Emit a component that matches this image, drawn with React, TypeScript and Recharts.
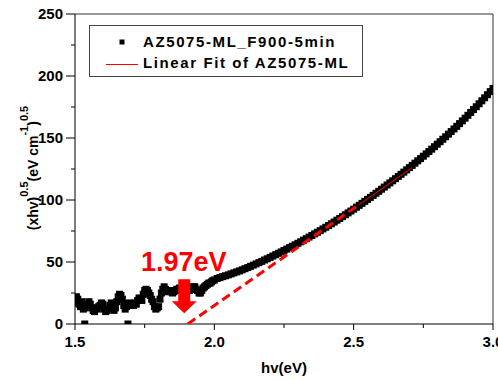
import React from 'react';
import {
  ComposedChart,
  Scatter,
  Line,
  XAxis,
  YAxis,
  ReferenceLine,
  ReferenceDot,
  Legend,
} from 'recharts';

// Noisy low-energy part (below the gap), read every 0.005 eV
const noiseHv = [
  1.500, 1.505, 1.510, 1.515, 1.520, 1.525, 1.530, 1.535, 1.540, 1.545,
  1.550, 1.555, 1.560, 1.565, 1.570, 1.575, 1.580, 1.585, 1.590, 1.595,
  1.600, 1.605, 1.610, 1.615, 1.620, 1.625, 1.630, 1.635, 1.640, 1.645,
  1.650, 1.655, 1.660, 1.665, 1.670, 1.675, 1.680, 1.685, 1.690, 1.695,
  1.700, 1.705, 1.710, 1.715, 1.720, 1.725, 1.730, 1.735, 1.740, 1.745,
  1.750, 1.755, 1.760, 1.765, 1.770, 1.775, 1.780, 1.785, 1.790, 1.795,
  1.800, 1.805, 1.810, 1.815, 1.820, 1.825, 1.830, 1.835, 1.840, 1.845,
  1.850, 1.855, 1.860, 1.865, 1.870, 1.875, 1.880, 1.885, 1.890, 1.895,
  1.900, 1.905, 1.910, 1.915, 1.920, 1.925, 1.930, 1.935, 1.940, 1.945,
  1.950, 1.955, 1.960, 1.965, 1.970, 1.975, 1.980, 1.985, 1.990, 1.995,
  2.000,
];
const noiseVal = [
  17, 22, 20, 16, 14, 18, 12, 13, 15, 16,
  18, 16, 13, 11, 10, 13, 12, 14, 15, 17,
  16, 12, 10, 11, 12, 15, 17, 14, 11, 13,
  18, 22, 24, 23, 20, 15, 12, 14, 16, 17,
  15, 16, 15, 17, 16, 19, 21, 20, 19, 24,
  27, 28, 27, 25, 23, 20, 18, 14, 12, 13,
  14, 20, 25, 28, 30, 28, 26, 27, 27, 26,
  25, 26, 27, 28, 28, 29, 29, 28, 28, 27,
  27, 28, 27, 28, 29, 30, 30, 28, 27, 25,
  25, 27, 29, 30, 31, 32, 33, 33, 34, 35,
  35.5,
];

// Rising absorption edge, read every 0.01 eV
const riseHv = [
  2.01, 2.02, 2.03, 2.04, 2.05, 2.06, 2.07, 2.08, 2.09, 2.10,
  2.11, 2.12, 2.13, 2.14, 2.15, 2.16, 2.17, 2.18, 2.19, 2.20,
  2.21, 2.22, 2.23, 2.24, 2.25, 2.26, 2.27, 2.28, 2.29, 2.30,
  2.31, 2.32, 2.33, 2.34, 2.35, 2.36, 2.37, 2.38, 2.39, 2.40,
  2.41, 2.42, 2.43, 2.44, 2.45, 2.46, 2.47, 2.48, 2.49, 2.50,
  2.51, 2.52, 2.53, 2.54, 2.55, 2.56, 2.57, 2.58, 2.59, 2.60,
  2.61, 2.62, 2.63, 2.64, 2.65, 2.66, 2.67, 2.68, 2.69, 2.70,
  2.71, 2.72, 2.73, 2.74, 2.75, 2.76, 2.77, 2.78, 2.79, 2.80,
  2.81, 2.82, 2.83, 2.84, 2.85, 2.86, 2.87, 2.88, 2.89, 2.90,
  2.91, 2.92, 2.93, 2.94, 2.95, 2.96, 2.97, 2.98, 2.99, 3.00,
];
const riseVal = [
  36.7, 37.4, 38.2, 38.9, 39.6, 40.4, 41.2, 42.0, 42.8, 43.7,
  44.6, 45.5, 46.5, 47.5, 48.5, 49.5, 50.5, 51.6, 52.6, 53.7,
  54.8, 55.9, 57.0, 58.1, 59.3, 60.4, 61.6, 62.7, 63.9, 65.1,
  66.3, 67.6, 68.8, 70.1, 71.4, 72.7, 74.0, 75.3, 76.7, 78.0,
  79.4, 80.8, 82.2, 83.7, 85.1, 86.6, 88.1, 89.6, 91.1, 92.6,
  94.2, 95.7, 97.3, 98.9, 100.5, 102.1, 103.7, 105.4, 107.0, 108.7,
  110.4, 112.1, 113.8, 115.5, 117.2, 119.0, 120.7, 122.5, 124.3, 126.1,
  127.9, 129.7, 131.6, 133.4, 135.3, 137.2, 139.1, 141.0, 143.0, 145.0,
  147.0, 149.0, 151.0, 153.1, 155.2, 157.3, 159.4, 161.6, 163.8, 166.0,
  168.3, 170.6, 172.9, 175.2, 177.6, 180.0, 182.4, 184.9, 187.4, 190.0,
];

const zeroHv = [1.535, 1.69];
const zeroVal = [0, 0];

const fitDashHv = [1.905, 2.52];
const fitDashVal = [0, 96.4];
const fitSolidHv = [2.52, 2.71];
const fitSolidVal = [96.4, 126.1];

const xTicks = [1.5, 1.75, 2.0, 2.25, 2.5, 2.75, 3.0];
const xMajor = [1.5, 2.0, 2.5, 3.0];
const yTicks = [0, 25, 50, 75, 100, 125, 150, 175, 200, 225, 250];
const yMajor = [0, 50, 100, 150, 200, 250];

const seriesName = 'AZ5075-ML_F900-5min';
const fitName = 'Linear Fit of AZ5075-ML';
const gapLabel = '1.97eV';
const gapLabelHv = 1.733;
const gapLabelVal = 42.7;
const gapArrowHv = 1.892;
const gapArrowVal = 36;

const FONT = "'Liberation Sans', Arial, sans-serif";
const RED = '#ff0000';

const scatterData = [
  ...noiseHv.map((x, i) => ({ x, y: noiseVal[i] })),
  ...riseHv.map((x, i) => ({ x, y: riseVal[i] })),
  ...zeroHv.map((x, i) => ({ x, y: zeroVal[i] })),
];
const fitDash = fitDashHv.map((x, i) => ({ x, y: fitDashVal[i] }));
const fitSolid = fitSolidHv.map((x, i) => ({ x, y: fitSolidVal[i] }));

const SquareShape = (props: any) => {
  const { cx, cy } = props;
  if (cx == null || cy == null) return null;
  return <rect x={cx - 3.5} y={cy - 3.5} width={7} height={7} fill="#000" />;
};

const XTick = (props: any) => {
  const { x, y, payload } = props;
  const major = xMajor.includes(payload.value);
  return (
    <g>
      <line x1={x} x2={x} y1={y} y2={y + (major ? 6 : 4)} stroke="#000" strokeWidth={1} />
      {major && (
        <text
          x={x}
          y={y + 23}
          textAnchor="middle"
          fontFamily={FONT}
          fontWeight="bold"
          fontSize={15}
          fill="#000"
        >
          {Number(payload.value).toFixed(1)}
        </text>
      )}
    </g>
  );
};

const YTick = (props: any) => {
  const { x, y, payload } = props;
  const major = yMajor.includes(payload.value);
  return (
    <g>
      <line x1={x - (major ? 9 : 4)} x2={x} y1={y} y2={y} stroke="#000" strokeWidth={1} />
      {major && (
        <text
          x={x - 12}
          y={y + 5}
          textAnchor="end"
          fontFamily={FONT}
          fontWeight="bold"
          fontSize={15}
          fill="#000"
        >
          {payload.value}
        </text>
      )}
    </g>
  );
};

const LegendBox = () => (
  <svg width={274} height={52} style={{ display: 'block' }}>
    <rect x={0.5} y={0.5} width={273} height={51} fill="#fff" stroke="#444" strokeWidth={1} />
    <rect x={30.5} y={14.5} width={5} height={5} fill="#000" />
    <text x={54} y={21.7} fontFamily={FONT} fontWeight="bold" fontSize={15} letterSpacing={1.6} fill="#000">
      {seriesName}
    </text>
    <line x1={17} x2={49} y1={39.5} y2={39.5} stroke={RED} strokeWidth={1} />
    <text x={54} y={43.3} fontFamily={FONT} fontWeight="bold" fontSize={15} letterSpacing={1.6} fill="#000">
      {fitName}
    </text>
  </svg>
);

const XLabel = (props: any) => {
  const vb = props.viewBox || {};
  return (
    <text
      x={vb.x + vb.width / 2}
      y={vb.y + 49}
      textAnchor="middle"
      fontFamily={FONT}
      fontWeight="bold"
      fontSize={15}
      fill="#000"
    >
      hv(eV)
    </text>
  );
};

const YLabel = (props: any) => {
  const vb = props.viewBox || {};
  const cx = 38;
  const cy = vb.y + vb.height / 2 - 1;
  return (
    <text
      x={cx}
      y={cy}
      transform={`rotate(-90 ${cx} ${cy})`}
      textAnchor="middle"
      fontFamily={FONT}
      fontWeight="bold"
      fontSize={14}
      fill="#000"
    >
      <tspan>(xhv)</tspan>
      <tspan fontSize={11} dy={-10}>0.5</tspan>
      <tspan dy={10}>(eV cm</tspan>
      <tspan fontSize={11} dy={-10}>-1</tspan>
      <tspan dy={10}>)</tspan>
      <tspan fontSize={11} dy={-10}>0.5</tspan>
    </text>
  );
};

const GapText = (props: any) => (
  <text
    x={props.cx + 1}
    y={props.cy}
    fontFamily={FONT}
    fontWeight="bold"
    fontSize={27}
    fill={RED}
  >
    {gapLabel}
  </text>
);

const GapArrow = (props: any) => {
  const { cx, cy } = props;
  const pts = [
    [cx - 6, cy],
    [cx + 6, cy],
    [cx + 6, cy + 22],
    [cx + 12.5, cy + 22],
    [cx, cy + 34],
    [cx - 12.5, cy + 22],
    [cx - 6, cy + 22],
  ]
    .map((p) => p.join(','))
    .join(' ');
  return <polygon points={pts} fill={RED} />;
};

export default function App() {
  return (
    <div style={{ position: 'absolute', left: 0, top: 0, width: 498, height: 380, background: '#fff' }}>
      <ComposedChart
        width={498}
        height={380}
        margin={{ top: 14, right: 5, bottom: 0, left: 0 }}
        style={{ fontFamily: FONT }}
      >
        <XAxis
          dataKey="x"
          type="number"
          domain={[1.5, 3.0]}
          ticks={xTicks}
          interval={0}
          allowDataOverflow
          height={56}
          tickSize={0}
          tickMargin={0}
          tickLine={false}
          axisLine={{ stroke: '#000', strokeWidth: 1 }}
          tick={<XTick />}
          label={<XLabel />}
        />
        <YAxis
          dataKey="y"
          type="number"
          domain={[0, 250]}
          ticks={yTicks}
          interval={0}
          allowDataOverflow
          width={75}
          tickSize={0}
          tickMargin={0}
          tickLine={false}
          axisLine={{ stroke: '#000', strokeWidth: 1 }}
          tick={<YTick />}
          label={<YLabel />}
        />
        <ReferenceLine y={250} stroke="#333" strokeWidth={1} />
        <ReferenceLine x={3.0} stroke="#333" strokeWidth={1} />
        <Scatter
          name={seriesName}
          data={scatterData}
          shape={<SquareShape />}
          isAnimationActive={false}
        />
        <Line
          name={fitName}
          data={fitDash}
          dataKey="y"
          type="linear"
          stroke={RED}
          strokeWidth={3}
          strokeDasharray="9 5"
          dot={false}
          activeDot={false}
          isAnimationActive={false}
          legendType="none"
          zIndex={700}
        />
        <Line
          name={fitName}
          data={fitSolid}
          dataKey="y"
          type="linear"
          stroke={RED}
          strokeWidth={1}
          dot={false}
          activeDot={false}
          isAnimationActive={false}
          zIndex={700}
        />
        <ReferenceDot x={gapArrowHv} y={gapArrowVal} ifOverflow="visible" shape={<GapArrow />} zIndex={800} />
        <ReferenceDot x={gapLabelHv} y={gapLabelVal} ifOverflow="visible" shape={<GapText />} zIndex={800} />
        <Legend
          layout="vertical"
          align="center"
          verticalAlign="middle"
          wrapperStyle={{ left: 89, top: 25, width: 274, height: 52 }}
          content={() => <LegendBox />}
        />
      </ComposedChart>
    </div>
  );
}
